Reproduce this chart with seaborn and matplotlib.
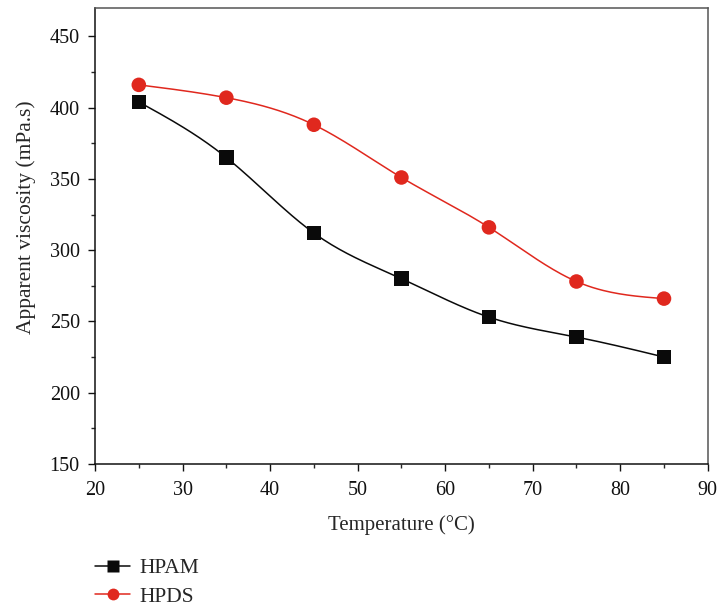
import numpy as np
import pandas as pd
import matplotlib
matplotlib.use("Agg")
import matplotlib.pyplot as plt
from matplotlib.lines import Line2D
from matplotlib.ticker import MultipleLocator
import seaborn as sns

# ================================================
# Data
# ================================================
temperature = [25, 35, 45, 55, 65, 75, 85]
hpam = [404, 365, 312, 280, 253, 239, 225]
hpds = [416, 407, 388, 351, 316, 278, 266]
series_names = ["HPAM", "HPDS"]

df = pd.DataFrame({
    "Temperature": temperature * 2,
    "Viscosity": hpam + hpds,
    "Sample": [series_names[0]] * len(temperature) + [series_names[1]] * len(temperature),
})


def smooth(x, y, n=200):
    # natural cubic spline through the measured points (drawing only)
    x = np.asarray(x, float)
    y = np.asarray(y, float)
    h = np.diff(x)
    m = len(x)
    A = np.zeros((m, m))
    b = np.zeros(m)
    A[0, 0] = A[-1, -1] = 1
    for i in range(1, m - 1):
        A[i, i - 1] = h[i - 1]
        A[i, i] = 2 * (h[i - 1] + h[i])
        A[i, i + 1] = h[i]
        b[i] = 6 * ((y[i + 1] - y[i]) / h[i] - (y[i] - y[i - 1]) / h[i - 1])
    M = np.linalg.solve(A, b)
    xs = np.linspace(x[0], x[-1], n)
    idx = np.clip(np.searchsorted(x, xs) - 1, 0, m - 2)
    x0, x1 = x[idx], x[idx + 1]
    hh = x1 - x0
    t0, t1 = x1 - xs, xs - x0
    ys = (M[idx] * t0 ** 3 + M[idx + 1] * t1 ** 3) / (6 * hh) \
        + (y[idx] / hh - M[idx] * hh / 6) * t0 \
        + (y[idx + 1] / hh - M[idx + 1] * hh / 6) * t1
    return xs, ys


# ================================================
# Plot
# ================================================
sns.set_style("ticks")
plt.rcParams["font.family"] = ["Liberation Serif", "DejaVu Serif"]

fig = plt.figure(figsize=(7.2, 6.08), dpi=100)
ax = fig.add_axes([0.132, 0.237, 0.851, 0.750])

colors = {"HPAM": "#0a0a0a", "HPDS": "#e0281e"}
markers = {"HPAM": "s", "HPDS": "o"}

for name, vals in zip(series_names, [hpam, hpds]):
    xs, ys = smooth(temperature, vals)
    ax.plot(xs, ys, color=colors[name], lw=1.1, zorder=2)

sns.scatterplot(data=df, x="Temperature", y="Viscosity", hue="Sample", style="Sample",
                palette=colors, markers=markers, s=110, edgecolor="none",
                legend=False, ax=ax, zorder=3)

ax.set_xlim(20, 90)
ax.set_ylim(150, 470)
ax.xaxis.set_major_locator(MultipleLocator(10))
ax.xaxis.set_minor_locator(MultipleLocator(5))
ax.yaxis.set_major_locator(MultipleLocator(50))
ax.yaxis.set_minor_locator(MultipleLocator(25))
ax.tick_params(which="major", length=5, width=1, labelsize=14.5, colors="#111111")
ax.tick_params(which="minor", length=3, width=1)
ax.tick_params(axis="x", which="major", pad=7)
ax.tick_params(axis="y", which="major", pad=6)

for side in ["left", "bottom"]:
    ax.spines[side].set_color("#111111")
    ax.spines[side].set_linewidth(1.1)
for side in ["top", "right"]:
    ax.spines[side].set_visible(True)
    ax.spines[side].set_color("#555555")
    ax.spines[side].set_linewidth(1.1)

ax.set_xlabel("Temperature (°C)", fontsize=15, labelpad=11)
ax.set_ylabel("Apparent viscosity (mPa.s)", fontsize=15.5, labelpad=10)
ax.yaxis.label.set_y(0.542)

handles = [Line2D([], [], color=colors[n], marker=markers[n], markersize=9 if n == "HPAM" else 8.5,
                  lw=1.1, markeredgecolor="none") for n in series_names]
fig.legend(handles, series_names, loc="upper left", bbox_to_anchor=(0.132, 0.082),
           frameon=False, fontsize=15.5, handlelength=1.63, handletextpad=0.42,
           labelspacing=0.4, borderaxespad=0, borderpad=0)

fig.savefig("out.png", dpi=100)
